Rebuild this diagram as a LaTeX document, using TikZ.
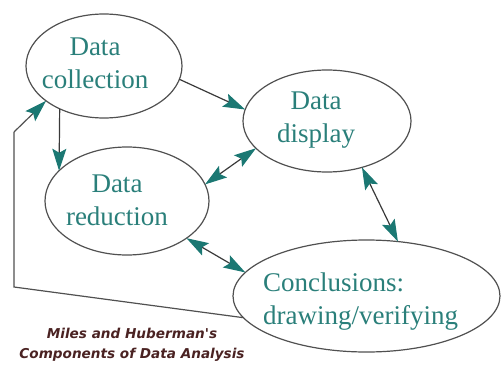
\documentclass[tikz,border=0pt]{standalone}
\usepackage{fontspec}
\setmainfont{Liberation Serif}
\newfontfamily\capfont{DejaVu Sans}
\usetikzlibrary{shapes.geometric,arrows.meta}
\definecolor{txtc}{HTML}{2A7F7A}
\definecolor{arrc}{HTML}{1B7873}
\definecolor{linec}{HTML}{3A3A3A}
\definecolor{ellc}{HTML}{505050}
\definecolor{capc}{HTML}{4A2222}
\tikzset{
  tipA/.tip={Stealth[length=22pt,width=14pt,inset=4pt,color=arrc]},
  bubble/.style={ellipse, draw=ellc, line width=1.2pt, inner sep=0pt, outer sep=0pt},
  lbl/.style={text=txtc, align=center, inner sep=0pt, font=\fontsize{27}{33}\selectfont},
  arr/.style={draw=linec, line width=1.2pt, -tipA},
  dbl/.style={draw=linec, line width=1.2pt, tipA-tipA},
  fb/.style={draw=ellc, line width=1.2pt},
  captxt/.style={text=capc, align=center, inner sep=0pt, font=\capfont\bfseries\itshape\fontsize{13.6}{20}\selectfont}
}
\begin{document}
\begin{tikzpicture}[x=1pt,y=-1pt]
\useasboundingbox (0,0) rectangle (501,367);
\node[bubble, minimum width=156pt, minimum height=104pt] (coll) at (104,66) {};
\node[bubble, minimum width=168pt, minimum height=102pt] (disp) at (327,121) {};
\node[bubble, minimum width=164pt, minimum height=108pt] (red) at (127,201) {};
\node[bubble, minimum width=267pt, minimum height=112pt] (conc) at (366.5,296) {};
\node[lbl] (collT) at (95,63) {Data\\collection};
\node[lbl] (dispT) at (316,120) {Data\\display};
\node[lbl] (redT) at (117,200) {Data\\reduction};
\node[lbl, align=left, anchor=west] (concT) at (263,302) {Conclusions:\\drawing/verifying};
\coordinate (c1) at (14,287);
\coordinate (c2) at (14,132);
\draw[arr] (coll.-10) -- (disp.172);
\draw[arr] (coll.-136.6) -- (red.156);
\draw[dbl] (disp.-159.3) -- (red.12.8);
\draw[dbl] (disp.-53.3) -- (conc.60.6);
\draw[dbl] (red.-32.6) -- (conc.169.2);
\draw[fb] (conc.-170.3) -- (c1) -- (c2);
\draw[arr, draw=ellc] (c2) -- (coll.-149.5);
\node[captxt] (caption) at (132,345) {Miles and Huberman's\\Components of Data Analysis};
\end{tikzpicture}
\end{document}
